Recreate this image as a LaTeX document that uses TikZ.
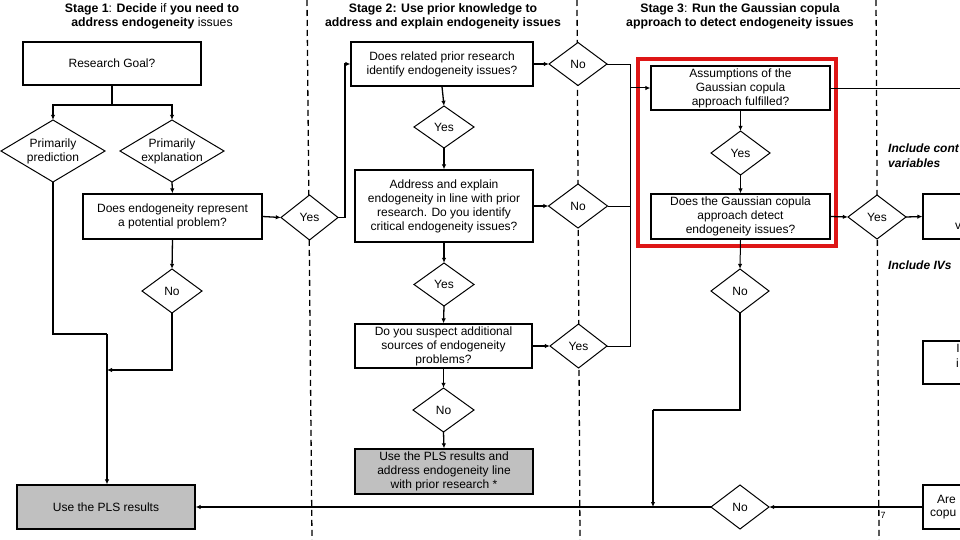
\documentclass[tikz,border=0pt]{standalone}
\usepackage{fontspec}
\setmainfont{Liberation Sans}
\usetikzlibrary{arrows.meta,calc}
\definecolor{plsgray}{RGB}{192,192,192}
\definecolor{redc}{RGB}{222,22,22}
\newcommand\dia[6]{%
  \path[dline] (#2,#3-#5/2) -- (#2+#4/2,#3) -- (#2,#3+#5/2) -- (#2-#4/2,#3) -- cycle;
  \node[dshape, minimum width=#4pt, minimum height=#5pt] (#1) at (#2,#3) {};
  \node[align=center, inner sep=0pt] (#1t) at (#2,#3) {#6};
}
\begin{document}
\begin{tikzpicture}[x=1pt,y=-1pt,
  every node/.style={font=\fontsize{12}{14}\selectfont},
  box/.style={draw, line width=1.3pt, rectangle, inner sep=0pt, align=center, fill=white},
  gbox/.style={box, fill=plsgray},
  dshape/.style={rectangle, inner sep=0pt},
  dline/.style={draw, line width=1pt, fill=white, line join=miter},
  arr/.style={line width=1.3pt, -{Latex[length=5pt,width=4.5pt]}},
  tarr/.style={line width=1pt, -{Latex[length=5pt,width=4.5pt]}},
  ln/.style={line width=1.3pt},
  thinln/.style={line width=0.9pt},
  stage/.style={align=center, inner sep=0pt, font=\fontsize{12.3}{14.5}\selectfont},
  sep/.style={dash pattern=on 6pt off 4pt, line width=1.3pt},
  lab/.style={font=\fontsize{12}{14.5}\selectfont\bfseries\itshape, anchor=west, align=left, inner sep=0pt}
]
\useasboundingbox (0,0) rectangle (960,540);
\clip (0,0) rectangle (960,540);

% stage separators
\draw[sep] (307,0) -- (312,540);
\draw[sep] (577,0) -- (580,540);
\draw[sep] (876,0) -- (879,540);

% headings
\node[stage] (h1) at (152,16.5) {\textbf{Stage 1}: \textbf{Decide} if \textbf{you need to}\\\textbf{address endogeneity} issues};
\node[stage] (h2) at (443,16.5) {\textbf{Stage 2: Use prior knowledge to}\\\textbf{address and explain endogeneity issues}};
\node[stage] (h3) at (740,16.5) {\textbf{Stage 3}: \textbf{Run the Gaussian copula}\\\textbf{approach to detect endogeneity issues}};

% highlight
\node[draw=redc, line width=4pt, minimum width=198pt, minimum height=187pt, inner sep=0pt] (hl) at (737,152.5) {};

% Stage 1
\node[box, minimum width=178pt, minimum height=43pt] (rg) at (112,63.5) {Research Goal?};
\dia{pp}{53}{151}{104}{62}{Primarily\\prediction}
\dia{pe}{172}{151}{104}{62}{Primarily\\explanation}
\node[box, minimum width=179pt, minimum height=45pt] (q0) at (172.5,216.5) {Does endogeneity represent\\a potential problem?};
\dia{y1}{309.5}{217.5}{57}{45}{Yes}
\dia{n1}{172}{291}{60}{44}{No}
\node[gbox, minimum width=178pt, minimum height=44pt] (pls) at (106,507) {Use the PLS results};

% Stage 2
\node[box, minimum width=182pt, minimum height=44pt] (q1) at (442,64) {Does related prior research\\identify endogeneity issues?};
\dia{y2}{444}{127}{60}{42}{Yes}
\node[box, minimum width=178pt, minimum height=72pt] (q2) at (444,206) {Address and explain\\endogeneity in line with prior\\research. Do you identify\\critical endogeneity issues?};
\dia{n2a}{578}{64}{58}{43}{No}
\dia{n2b}{578}{206}{59}{44}{No}
\dia{y3}{444}{284.5}{60}{43}{Yes}
\node[box, minimum width=177pt, minimum height=44pt] (q3) at (443.5,346) {Do you suspect additional\\sources of endogeneity\\problems?};
\dia{yb}{578.5}{346}{57}{44}{Yes}
\dia{n3}{443.5}{410}{61}{44}{No}
\node[gbox, minimum width=178pt, minimum height=45pt] (pls2) at (444,471.5) {Use the PLS results and\\address endogeneity line\\with prior research *};

% Stage 3
\node[box, minimum width=179pt, minimum height=44pt] (a1) at (740.5,88) {Assumptions of the\\Gaussian copula\\approach fulfilled?};
\dia{y4}{740.5}{153}{59}{44}{Yes}
\node[box, minimum width=179pt, minimum height=45pt] (q4) at (740.5,216.5) {Does the Gaussian copula\\approach detect\\endogeneity issues?};
\dia{n4}{740}{291}{58}{44}{No}
\dia{y5}{877}{217}{58}{44}{Yes}
\dia{n5}{740}{507}{58}{44}{No}

% cut-off boxes at the right edge
\node[box, minimum width=77pt, minimum height=45pt] (r1) at (961.5,216.5) {};
\node[inner sep=0pt] (r1t) at (958,226) {v};
\node[box, minimum width=77pt, minimum height=43pt] (r2) at (961.5,362.5) {};
\node[inner sep=0pt] (r2t) at (958,348) {I};
\node[inner sep=0pt] (r2u) at (957.5,363) {i};
\node[box, minimum width=77pt, minimum height=44pt] (r3) at (961.5,507) {};
\node[inner sep=0pt, anchor=west] (r3t) at (937,499) {Are};
\node[inner sep=0pt, anchor=west] (r3u) at (930,515) {copu};

% labels
\node[lab] (l1) at (888,155.5) {Include cont\\variables};
\node[lab] (l2) at (888,265) {Include IVs};
\node[inner sep=0pt, font=\fontsize{9}{10}\selectfont] (pg) at (883,515) {7};

% connectors stage 1
\coordinate (j1) at (112,105);
\draw[ln] (rg.south) -- (j1);
\draw[arr] (j1) -| (pp.north);
\draw[arr] (j1) -| (pe.north);
\draw[arr] (pe.south) -- (q0.north);
\draw[arr] (q0.east) -- (y1.west);
\draw[arr] (q0.south) -- (n1.north);
\coordinate (j2) at (107,334);
\draw[ln] (pp.south) |- (j2);
\draw[arr] (j2) -- (j2 |- pls.north);
\coordinate (j3) at (107,370);
\draw[arr] (n1.south) |- (j3);

% connectors stage 2
\coordinate (j4) at (345,217.5);
\draw[ln] (y1.east) -- (j4);
\draw[arr] (j4) |- (q1.west);
\draw[arr] (q1.south) -- (y2.north);
\draw[arr] (y2.south) -- (q2.north);
\draw[arr] (q2.south) -- (y3.north);
\draw[arr] (y3.south) -- (q3.north);
\draw[arr] (q3.south) -- (n3.north);
\draw[arr] (n3.south) -- (pls2.north);
\draw[arr] (q1.east) -- (n2a.west);
\draw[arr] (q2.east) -- (n2b.west);
\draw[arr] (q3.east) -- (yb.west);
\coordinate (j5) at (630,64);
\coordinate (j6) at (630,88);
\coordinate (j8) at (630,346);
\draw[thinln] (n2a.east) -- (j5) -- (j8) -- (yb.east);
\draw[thinln] (n2b.east) -- (n2b.east -| j5);
\draw[tarr] (j6) -- (a1.west);

% connectors stage 3
\draw[tarr] (a1.south) -- (y4.north);
\draw[tarr] (y4.south) -- (q4.north);
\draw[tarr] (q4.south) -- (n4.north);
\draw[arr] (q4.east) -- (y5.west);
\draw[arr] (y5.east) -- (r1.west);
\coordinate (e1) at (962,88);
\draw[thinln] (a1.east) -- (e1);
\coordinate (j7) at (653,410);
\draw[ln] (n4.south) |- (j7);
\draw[arr] (j7) -- (j7 |- n5.west);
\draw[arr] (r3.west) -- (n5.east);
\draw[arr] (n5.west) -- (pls.east);
\end{tikzpicture}
\end{document}
